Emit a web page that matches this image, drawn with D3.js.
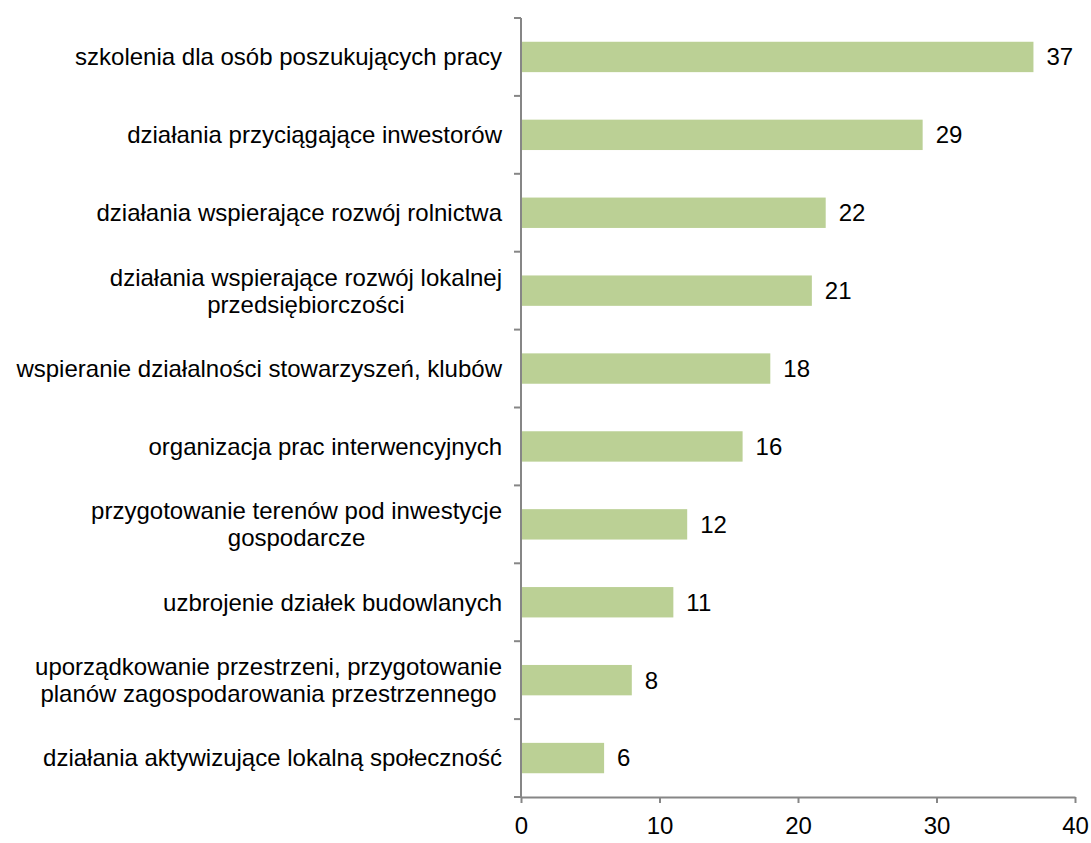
<!DOCTYPE html>
<html>
<head>
<meta charset="utf-8">
<script src="https://d3js.org/d3.v7.min.js"></script>
<style>
  body { margin: 0; background: #fff; }
  svg text { font-family: "Liberation Sans", Arial, sans-serif; fill: #000; }
</style>
</head>
<body>
<svg id="chart" width="1091" height="843"></svg>
<script>
// category labels, top to bottom (lines split where the original wraps)
const categories = [
    ["szkolenia dla osób poszukujących pracy"],
    ["działania przyciągające inwestorów"],
    ["działania wspierające rozwój rolnictwa"],
    ["działania wspierające rozwój lokalnej", "przedsiębiorczości"],
    ["wspieranie działalności stowarzyszeń, klubów"],
    ["organizacja prac interwencyjnych"],
    ["przygotowanie terenów pod inwestycje", "gospodarcze"],
    ["uzbrojenie działek budowlanych"],
    ["uporządkowanie przestrzeni, przygotowanie", "planów zagospodarowania przestrzennego"],
    ["działania aktywizujące lokalną społeczność"]
];
const values = [37, 29, 22, 21, 18, 16, 12, 11, 8, 6];
const xTicks = [0, 10, 20, 30, 40];

const svg = d3.select("#chart");
const margin = { left: 521, right: 16, top: 18, bottom: 46 };
const width = 1091, height = 843;
const axisColor = "#868686";
const barColor = "#bbd095";
const fontSize = "24px";

const x = d3.scaleLinear().domain([0, 40]).range([margin.left, width - margin.right]);
const y = d3.scaleBand()
    .domain(d3.range(categories.length))
    .range([margin.top, height - margin.bottom])
    .paddingInner(0.61)
    .paddingOuter(0.305);

// bars
svg.append("g")
    .selectAll("rect")
    .data(values)
    .join("rect")
    .attr("x", x(0))
    .attr("y", (d, i) => y(i))
    .attr("width", d => x(d) - x(0))
    .attr("height", y.bandwidth())
    .attr("fill", barColor);

// value labels
svg.append("g")
    .selectAll("text")
    .data(values)
    .join("text")
    .attr("x", d => x(d) + 13)
    .attr("y", (d, i) => y(i) + y.bandwidth() / 2)
    .attr("dy", "0.35em")
    .style("font-size", fontSize)
    .text(d => d);

// x axis
const xAxis = svg.append("g")
    .attr("transform", `translate(0,${height - margin.bottom})`)
    .call(d3.axisBottom(x).tickValues(xTicks).tickSize(6).tickSizeOuter(0).tickPadding(14));
xAxis.selectAll("line, path").attr("stroke", axisColor).attr("stroke-width", 2);
xAxis.selectAll("text").style("font-size", fontSize).attr("fill", "#000")
    .style("font-family", "'Liberation Sans', Arial, sans-serif");
// extend the axis line slightly to the left like the original
xAxis.append("line")
    .attr("x1", x(0) - 6).attr("x2", x(0))
    .attr("stroke", axisColor).attr("stroke-width", 2);

// y axis line and category boundary ticks
const bounds = d3.range(categories.length + 1).map(i => margin.top + i * (height - margin.top - margin.bottom) / categories.length);
const yAxis = svg.append("g");
yAxis.append("line")
    .attr("x1", x(0)).attr("x2", x(0))
    .attr("y1", margin.top).attr("y2", height - margin.bottom)
    .attr("stroke", axisColor).attr("stroke-width", 2);
yAxis.selectAll("line.tick")
    .data(bounds)
    .join("line")
    .attr("class", "tick")
    .attr("x1", x(0) - 7).attr("x2", x(0))
    .attr("y1", d => d).attr("y2", d => d)
    .attr("stroke", axisColor).attr("stroke-width", 2);

// category labels: right-aligned block, wrapped lines centred within the block
const labelRight = x(0) - 19;
const lineH = 27;
const labels = svg.append("g")
    .selectAll("text")
    .data(categories)
    .join("text")
    .style("font-size", fontSize);

labels.each(function(lines, i) {
    const t = d3.select(this);
    const cy = y(i) + y.bandwidth() / 2;
    // measure widest line
    const widths = lines.map(l => {
        const tmp = t.append("tspan").text(l);
        const w = tmp.node().getComputedTextLength();
        tmp.remove();
        return w;
    });
    const maxW = d3.max(widths);
    const cx = labelRight - maxW / 2;
    const y0 = cy - (lines.length - 1) * lineH / 2;
    lines.forEach((l, j) => {
        t.append("tspan")
            .attr("x", cx)
            .attr("y", y0 + j * lineH)
            .attr("dy", "0.35em")
            .attr("text-anchor", "middle")
            .text(l);
    });
});
</script>
</body>
</html>
